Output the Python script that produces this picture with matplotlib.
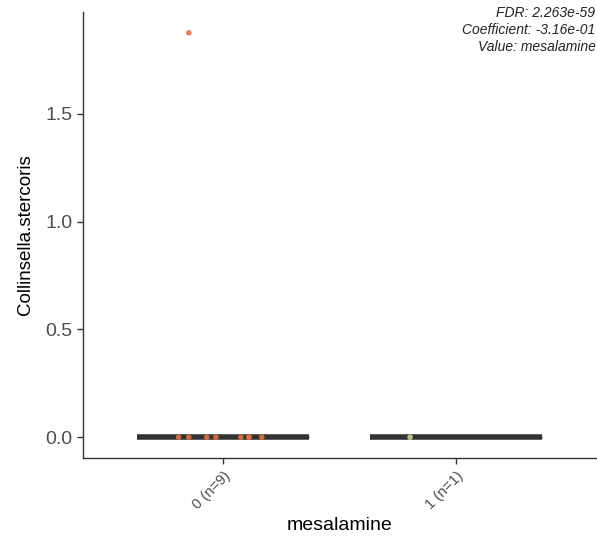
import matplotlib
matplotlib.use("Agg")
import matplotlib.pyplot as plt
import numpy as np

plt.rcParams['font.family'] = ['Liberation Sans', 'DejaVu Sans']

# Data
groups = ["0", "1"]
group_n = [9, 1]
tick_labels = ["0 (n=9)", "1 (n=1)"]
# per-sample abundance and horizontal jitter offset within each group
values_g0 = [0.0, 0.0, 0.0, 0.0, 0.0, 0.0, 0.0, 0.0, 1.875]
jitter_g0 = [-0.19, -0.146, -0.069, -0.03, 0.077, 0.112, 0.167, 0.112, -0.146]
values_g1 = [0.0]
jitter_g1 = [-0.197]
point_colors = ["#E2703C", "#C8D48E"]
stats_lines = ["FDR: 2.263e-59", "Coefficient: -3.16e-01", "Value: mesalamine"]
y_label = "Collinsella.stercoris"
x_label = "mesalamine"

fig = plt.figure(figsize=(5.97, 5.39), dpi=100)
ax = fig.add_axes([0.139, 0.150, 0.861, 0.828])

all_vals = [values_g0, values_g1]
all_jit = [jitter_g0, jitter_g1]
for i, (vals, jit) in enumerate(zip(all_vals, all_jit)):
    ax.boxplot([vals], positions=[i], widths=0.74, whis=1.5,
               showfliers=False, patch_artist=True,
               boxprops=dict(facecolor="white", edgecolor="#333333", linewidth=1.0),
               medianprops=dict(color="#333333", linewidth=4.0),
               whiskerprops=dict(color="#333333"),
               capprops=dict(linewidth=0))
    ax.scatter(np.array(jit) + i, vals, s=16, color=point_colors[i],
               edgecolors="none", zorder=5, alpha=0.9)

ax.set_xlim(-0.6, 1.605)
ax.set_ylim(-0.097, 1.972)
ax.set_xticks([0, 1])
ax.set_xticklabels(tick_labels, rotation=45, ha="right", rotation_mode="anchor",
                   fontsize=10.5, color="#4D4D4D")
ax.set_yticks([0.0, 0.5, 1.0, 1.5])
ax.set_yticklabels(["0.0", "0.5", "1.0", "1.5"], fontsize=14, color="#4D4D4D")
ax.tick_params(axis="both", direction="out", length=4, width=1.0, color="#333333")
for s in ["top", "right"]:
    ax.spines[s].set_visible(False)
for s in ["left", "bottom"]:
    ax.spines[s].set_color("#333333")
    ax.spines[s].set_linewidth(1.0)

ax.set_ylabel(y_label, fontsize=13.5, color="black", labelpad=8)
ax.set_xlabel(x_label, fontsize=14, color="black", labelpad=4)

ax.text(0.997, 1.013, "\n".join(stats_lines), transform=ax.transAxes,
        ha="right", va="top", fontsize=10, style="italic",
        color="#222222", linespacing=1.25)

fig.savefig("out.png", dpi=100)
